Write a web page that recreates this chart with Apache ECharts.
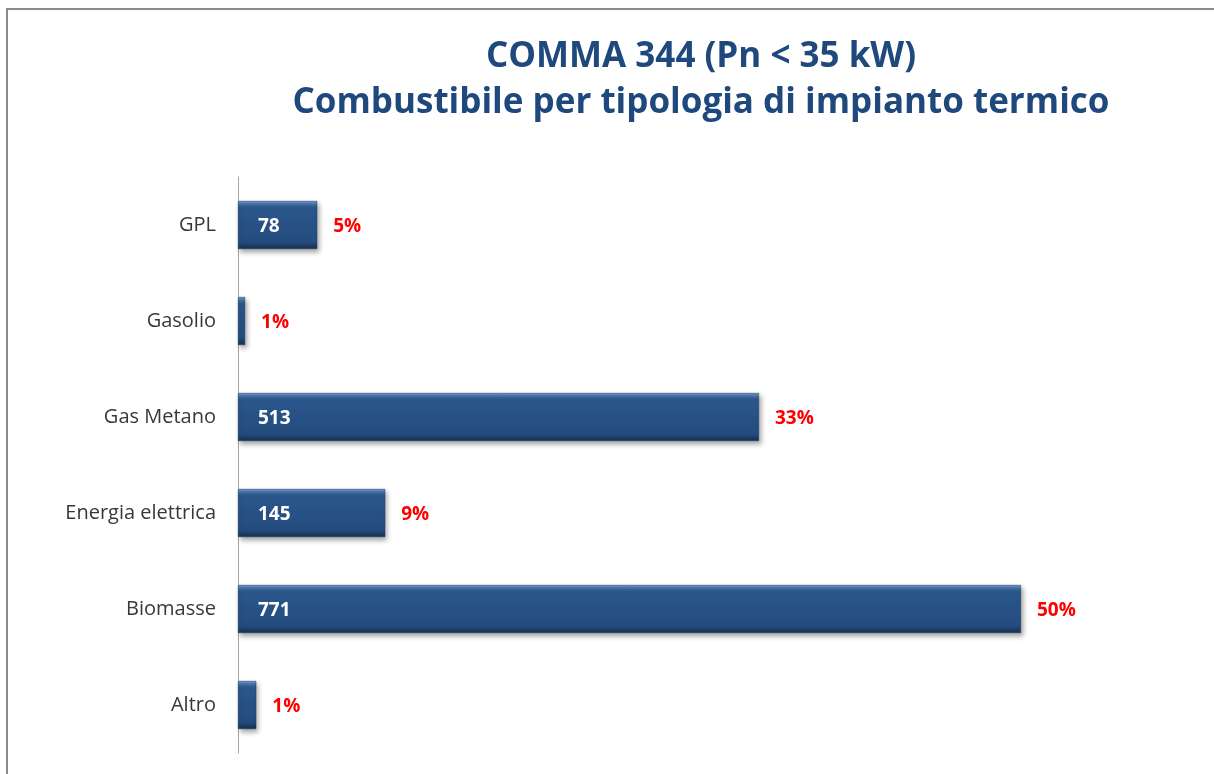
<!DOCTYPE html>
<html>
<head>
<meta charset="utf-8">
<script src="https://cdn.jsdelivr.net/npm/echarts@6/dist/echarts.min.js"></script>
<style>
  html, body { margin: 0; padding: 0; background: #fff; }
  #chart { width: 1214px; height: 774px; }
</style>
</head>
<body>
<div id="chart"></div>
<script>
// Fuel type per heating system (Comma 344, Pn < 35 kW)
const categories = ['GPL', 'Gasolio', 'Gas Metano', 'Energia elettrica', 'Biomasse', 'Altro'];
const counts = [78, 7, 513, 145, 771, 18];
const shares = [5, 1, 33, 9, 50, 1];
const shownCounts = [true, false, true, true, true, false];

const chart = echarts.init(document.getElementById('chart'));

const barFill = new echarts.graphic.LinearGradient(0, 0, 0, 1, [
  { offset: 0, color: '#7299cb' },
  { offset: 0.08, color: '#3f69a0' },
  { offset: 0.14, color: '#2b578c' },
  { offset: 0.85, color: '#244c7e' },
  { offset: 0.93, color: '#1d3d66' },
  { offset: 1, color: '#16304f' }
]);

chart.setOption({
  animation: false,
  backgroundColor: '#ffffff',
  title: {
    text: 'COMMA 344 (Pn < 35 kW)\nCombustibile per tipologia di impianto termico',
    left: 696,
    top: 29,
    textAlign: 'center',
    textStyle: {
      fontFamily: 'Open Sans',
      fontWeight: 'bold',
      fontSize: 35,
      lineHeight: 46,
      letterSpacing: 0.3,
      color: '#1f497d'
    }
  },
  graphic: [{
    type: 'rect',
    shape: { x: 7, y: 9, width: 1300, height: 900 },
    style: { fill: 'none', stroke: '#8c8c8c', lineWidth: 2 },
    silent: true
  }],
  grid: { left: 238, right: 62, top: 177, bottom: 21, containLabel: false },
  xAxis: {
    type: 'value',
    min: 0,
    max: 900,
    show: false
  },
  yAxis: {
    type: 'category',
    data: categories,
    inverse: true,
    axisLine: { show: true, lineStyle: { color: '#a6a6a6', width: 1 } },
    axisTick: { show: false },
    axisLabel: {
      margin: 22,
      fontFamily: 'Open Sans',
      fontSize: 20,
      color: '#383838'
    }
  },
  series: [
    {
      type: 'bar',
      data: counts,
      barWidth: 48,
      itemStyle: {
        color: barFill,
        borderColor: '#1d3b63',
        borderWidth: 0.5,
        shadowColor: 'rgba(0,0,0,0.35)',
        shadowBlur: 5,
        shadowOffsetX: 2,
        shadowOffsetY: 3
      },
      label: {
        show: true,
        position: 'insideLeft',
        distance: 20,
        offset: [0, 2],
        fontFamily: 'Open Sans',
        fontWeight: 'bold',
        fontSize: 19,
        letterSpacing: 1,
        color: '#ffffff',
        formatter: p => shownCounts[p.dataIndex] ? String(p.value) : ''
      }
    },
    {
      type: 'bar',
      data: counts,
      barWidth: 48,
      barGap: '-100%',
      silent: true,
      itemStyle: { color: 'rgba(0,0,0,0)' },
      label: {
        show: true,
        position: 'right',
        distance: 16,
        offset: [0, 2],
        fontFamily: 'Open Sans',
        fontWeight: 'bold',
        fontSize: 19,
        letterSpacing: 1,
        color: '#ff0000',
        formatter: p => shares[p.dataIndex] + '%'
      }
    }
  ]
});
</script>
</body>
</html>
